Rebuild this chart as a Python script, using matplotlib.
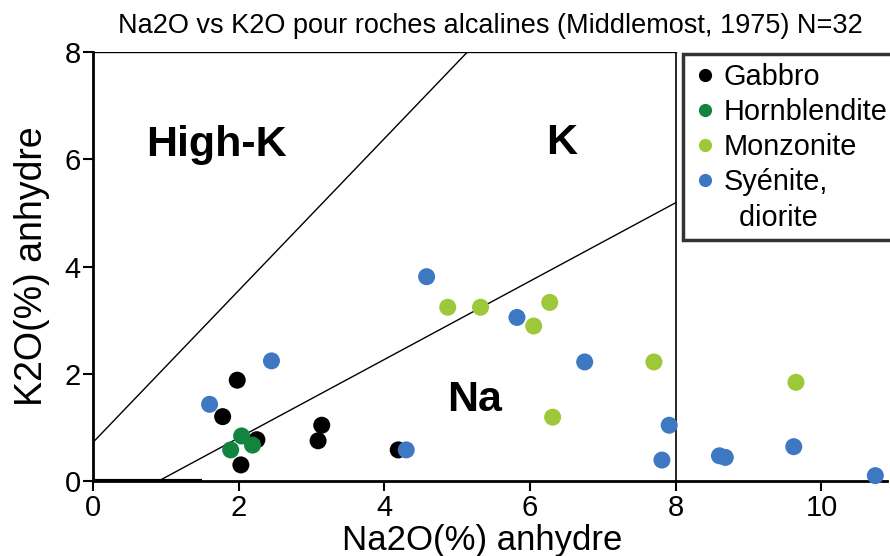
import matplotlib
matplotlib.use("Agg")
import matplotlib.pyplot as plt
from matplotlib.lines import Line2D

plt.rcParams['font.family'] = ['Liberation Sans', 'DejaVu Sans']

# data (Na2O, K2O in wt%)
gabbro_na = [1.98, 1.78, 2.25, 2.03, 3.14, 3.09, 4.19]
gabbro_k = [1.88, 1.20, 0.77, 0.30, 1.04, 0.75, 0.58]

hornbl_na = [2.04, 1.89, 2.19]
hornbl_k = [0.84, 0.58, 0.67]

monzo_na = [4.87, 5.32, 6.27, 6.05, 7.70, 6.31, 9.65]
monzo_k = [3.24, 3.24, 3.33, 2.89, 2.22, 1.19, 1.84]

syen_na = [4.58, 2.45, 1.60, 4.30, 5.82, 6.75, 7.91, 7.81, 8.60, 8.68, 9.62, 10.74]
syen_k = [3.81, 2.24, 1.43, 0.58, 3.05, 2.22, 1.04, 0.39, 0.47, 0.44, 0.64, 0.10]

groups = ["Gabbro", "Hornblendite", "Monzonite", "Syénite,"]
colors = ["#000000", "#12843f", "#9cc83a", "#3e78c2"]

# field boundaries (Middlemost 1975)
highk_line_x = [0, 5.14]
highk_line_y = [0.72, 8]
na_line_x = [0.9, 8]
na_line_y = [0, 5.19]

fig = plt.figure(figsize=(8.9, 5.56), dpi=100)
ax = fig.add_axes([93/890, 75/556, 794/890, 429/556])

ax.plot(highk_line_x, highk_line_y, color='black', lw=1.0)
ax.plot(na_line_x, na_line_y, color='black', lw=1.0)
ax.plot([0, 8], [8, 8], color='black', lw=1.0)
ax.plot([8, 8], [0, 8], color='black', lw=1.2)
ax.plot([0, 1.5], [0, 0], color='black', lw=3, solid_capstyle='butt')

series = [(gabbro_na, gabbro_k), (hornbl_na, hornbl_k), (monzo_na, monzo_k), (syen_na, syen_k)]
for (xs, ys), c in zip(series, colors):
    ax.scatter(xs, ys, s=150, color=c, edgecolors='none', zorder=3, clip_on=False)

ax.text(1.69, 6.27, "High-K", fontsize=31, fontweight='bold', ha='center', va='center')
ax.text(6.43, 6.31, "K", fontsize=31, fontweight='bold', ha='center', va='center')
ax.text(5.24, 1.51, "Na", fontsize=31, fontweight='bold', ha='center', va='center')

ax.set_xlim(0, 10.9)
ax.set_ylim(0, 8)
ax.set_xticks([0, 2, 4, 6, 8, 10])
ax.set_yticks([0, 2, 4, 6, 8])
ax.spines['top'].set_visible(False)
ax.spines['right'].set_visible(False)
ax.spines['left'].set_linewidth(2)
ax.spines['bottom'].set_linewidth(2)
ax.tick_params(direction='out', length=7, width=1.5, labelsize=21, pad=2)

ax.set_xlabel("Na2O(%) anhydre", fontsize=25, labelpad=1)
ax.xaxis.set_label_coords(0.49, -0.1)
ax.xaxis.label.set_va('top')
ax.set_ylabel("K2O(%) anhydre", fontsize=27, labelpad=10)
ax.set_title("Na2O vs K2O pour roches alcalines (Middlemost, 1975) N=32", fontsize=19.5, pad=14)

# legend: second line of the last label has no marker
handles = [Line2D([], [], ls='none', marker='o', ms=9.5, mfc=c, mec='none') for c in colors]
handles.append(Line2D([], [], ls='none', marker='o', ms=9.5, mfc='none', mec='none'))
labels = groups + ["  diorite"]
leg = fig.legend(handles, labels, loc='upper left', bbox_to_anchor=(683/890, 1 - 54/556), fontsize=20.8,
                 frameon=True, fancybox=False, handletextpad=0.2, handlelength=0.9,
                 labelspacing=0.25, borderpad=0.3, borderaxespad=0)
leg.get_frame().set_edgecolor('black')
leg.get_frame().set_linewidth(2.5)

fig.savefig("out.png", dpi=100)
